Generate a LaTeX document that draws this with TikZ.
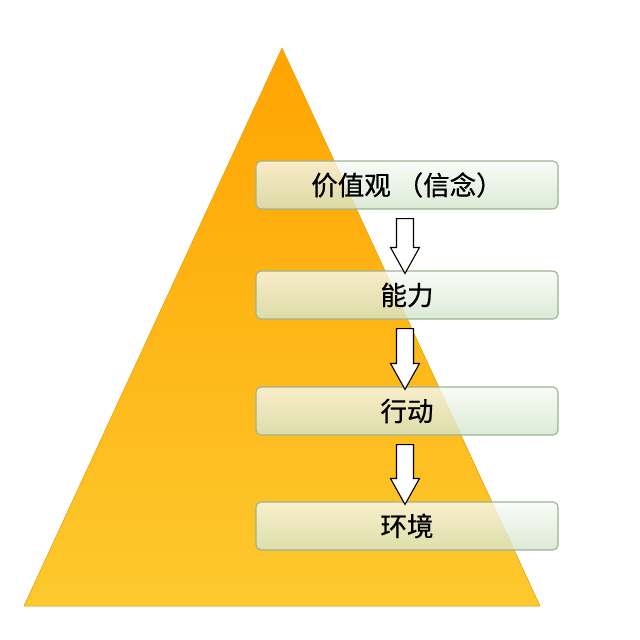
\documentclass[tikz,border=0pt]{standalone}
\usepackage{fontspec}
\newfontfamily\cjk[FakeBold=0.7]{Noto Sans CJK SC}
\usetikzlibrary{calc}
\definecolor{triTop}{HTML}{FFA400}
\definecolor{triBot}{HTML}{FDC92E}
\definecolor{triEdge}{HTML}{E9A20A}
\definecolor{boxEdge}{HTML}{9DB391}
\definecolor{boxTop}{HTML}{F8FBF6}
\definecolor{boxBot}{HTML}{D4E5CC}
\tikzset{
  stagebox/.style={rectangle, rounded corners=5pt, draw=boxEdge, line width=1.1pt,
    top color=boxTop, bottom color=boxBot, fill opacity=0.8, text opacity=1,
    minimum width=302pt, minimum height=48pt, inner sep=0pt,
    font=\cjk\fontsize{26.5}{30}\selectfont, text=black},
  blockarr/.style={draw=black, fill=white, line width=1.1pt, line join=miter}
}
\newcommand\downblock[2]{%
  \coordinate (s#1) at ($(#1.south)+(-2,9)$);
  \coordinate (t#1) at ($(#2.north)+(-2,3)$);
  \draw[blockarr] ([xshift=-8.5pt]s#1) -- ([xshift=8.5pt]s#1)
    -- ([xshift=8.5pt,yshift=26pt]t#1) -- ([xshift=14.5pt,yshift=26pt]t#1)
    -- (t#1) -- ([xshift=-14.5pt,yshift=26pt]t#1)
    -- ([xshift=-8.5pt,yshift=26pt]t#1) -- cycle;
}
\begin{document}
\begin{tikzpicture}[x=1pt,y=-1pt]
\useasboundingbox[fill=white] (0,0) rectangle (640,640);
\coordinate (apex) at (282,48);
\coordinate (bl) at (24,606);
\coordinate (br) at (540,606);
\shade[top color=triTop, bottom color=triBot] (apex) -- (br) -- (bl) -- cycle;
\draw[triEdge, line width=0.6pt] (apex) -- (br) -- (bl) -- cycle;
\node[stagebox] (b1) at (407,185) {价值观 （信念）};
\node[stagebox] (b2) at (407,295) {能力};
\node[stagebox] (b3) at (407,411) {行动};
\node[stagebox] (b4) at (407,526) {环境};
\downblock{b1}{b2}
\downblock{b2}{b3}
\downblock{b3}{b4}
\end{tikzpicture}
\end{document}
